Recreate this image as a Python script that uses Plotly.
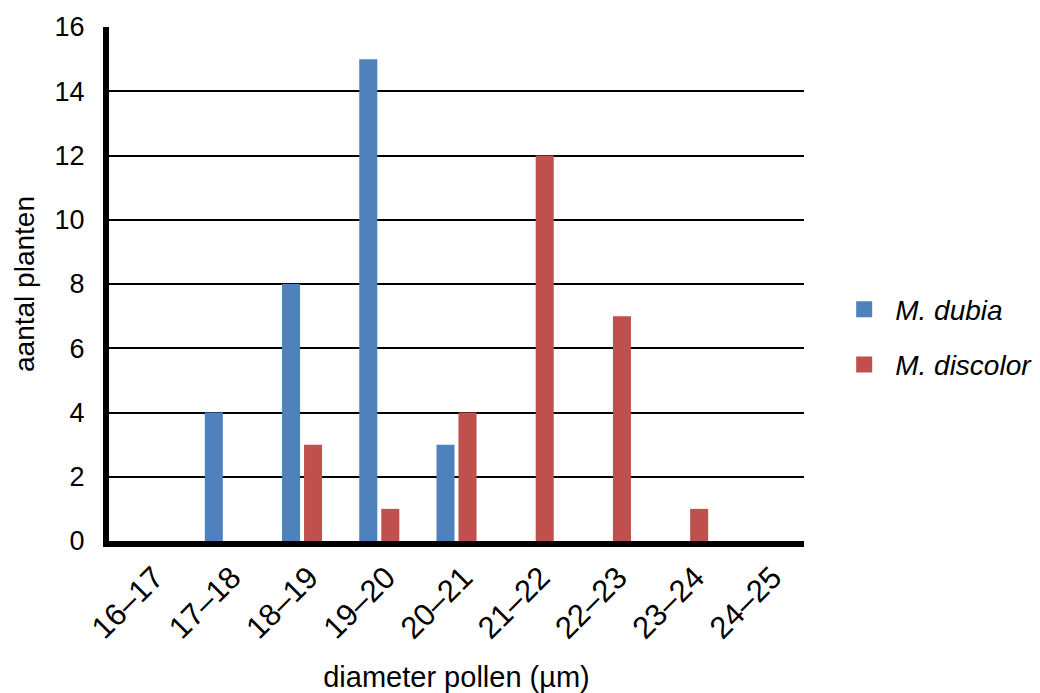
import plotly.graph_objects as go

# Pollen diameter classes (µm)
categories = ["16–17", "17–18", "18–19", "19–20", "20–21", "21–22", "22–23", "23–24", "24–25"]
# Number of plants per class
dubia_counts = [0, 4, 8, 15, 3, 0, 0, 0, 0]
discolor_counts = [0, 0, 3, 1, 4, 12, 7, 1, 0]
y_ticks = [0, 2, 4, 6, 8, 10, 12, 14, 16]

series = [
    ("<i>M. dubia</i>", dubia_counts, "#4F81BD", "a"),
    ("<i>M. discolor</i>", discolor_counts, "#C0504D", "b"),
]

FONT = "Arial, Liberation Sans, sans-serif"

fig = go.Figure()
for name, values, color, group in series:
    fig.add_trace(go.Bar(
        x=categories, y=values, name=name,
        marker=dict(color=color, line=dict(width=0)),
        legendgroup=group, showlegend=False,
    ))
# Legend entries with larger square swatches
for name, values, color, group in series:
    fig.add_trace(go.Scatter(
        x=[categories[0]], y=[None], name=name, mode="markers",
        marker=dict(symbol="square", size=16, color=color),
        legendgroup=group, showlegend=True, hoverinfo="skip",
    ))

fig.update_layout(
    width=1040, height=693,
    margin=dict(l=109, r=236, t=27, b=152, autoexpand=False),
    paper_bgcolor="white", plot_bgcolor="white",
    font=dict(family=FONT, size=28, color="black"),
    barmode="group", bargap=0.43, bargroupgap=0.18,
    legend=dict(
        x=1.042, y=0.397, xanchor="left", yanchor="middle",
        font=dict(family=FONT, size=28),
        traceorder="grouped", tracegroupgap=16, itemwidth=52,
        bgcolor="rgba(0,0,0,0)",
    ),
    xaxis=dict(
        type="category", categoryorder="array", categoryarray=categories,
        range=[-0.5, 8.5],
        showline=True, linecolor="black", linewidth=6,
        showgrid=False, ticks="", tickangle=-45,
        tickfont=dict(size=31), ticklabelstandoff=0, ticklabelshift=7,
        title=dict(text="diameter pollen (µm)", font=dict(size=29), standoff=36),
    ),
    yaxis=dict(
        range=[0, 16], tickvals=y_ticks,
        showline=True, linecolor="black", linewidth=6,
        showgrid=True, gridcolor="black", gridwidth=1.6,
        zeroline=False, ticks="",
        tickfont=dict(size=27), ticklabelstandoff=13,
        title=dict(text="aantal planten", font=dict(size=28), standoff=14),
    ),
)

fig.write_html("out.html")
